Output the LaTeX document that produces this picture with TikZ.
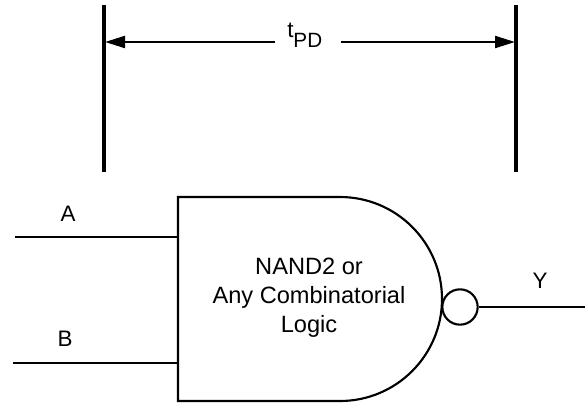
\documentclass[tikz,border=0pt]{standalone}
\usepackage{fontspec}
\setmainfont{Liberation Sans}
\usetikzlibrary{arrows.meta}
\begin{document}
\begin{tikzpicture}[x=0.75pt,y=-0.75pt,
  wire/.style={line width=1.6pt},
  tick/.style={line width=2.3pt},
  lbl/.style={font=\fontsize{16.8pt}{21pt}\selectfont, inner sep=0pt},
  dimarrow/.style={line width=1.6pt,-{Triangle[length=15pt,width=9pt]}}]
\useasboundingbox (0,0) rectangle (585,404);
% timing marks
\coordinate (lt) at (104,5);  \coordinate (lb) at (104,172);
\coordinate (rt) at (516,5);  \coordinate (rb) at (516,172);
\draw[tick] (lt) -- (lb);
\draw[tick] (rt) -- (rb);
\coordinate (la) at (105,42);
\coordinate (ra) at (515,42);
\node[lbl,anchor=base west] (tpd) at (287,37) {t\raisebox{-7.5pt}{\fontsize{15.5pt}{18pt}\selectfont PD}};
\coordinate (tc) at (308,42);
\draw[dimarrow] ([xshift=-25pt]tc) -- (la);
\draw[dimarrow] ([xshift=25pt]tc) -- (ra);
% gate body
\draw[wire] (178,197) -- (340,197) arc[start angle=90,end angle=-90,radius=76.5pt] -- (178,401) -- cycle;
\node[lbl,align=center,font=\fontsize{17.7pt}{21.75pt}\selectfont] (body) at (309,298) {NAND2 or\\Any Combinatorial\\Logic};
% bubble
\node[draw,wire,circle,minimum size=26.5pt,inner sep=0pt] (bub) at (460,307) {};
% inputs
\coordinate (ina) at (178,237); \coordinate (inaS) at (15,237);
\coordinate (inb) at (178,363); \coordinate (inbS) at (13,363);
\draw[wire] (inaS) -- (ina);
\draw[wire] (inbS) -- (inb);
\node[lbl] (A) at (68,214) {A};
\node[lbl] (B) at (65,339) {B};
% output
\coordinate (yend) at (585,307);
\draw[wire] (bub.east) -- (yend);
\node[lbl] (Y) at (540,281) {Y};
\end{tikzpicture}
\end{document}
